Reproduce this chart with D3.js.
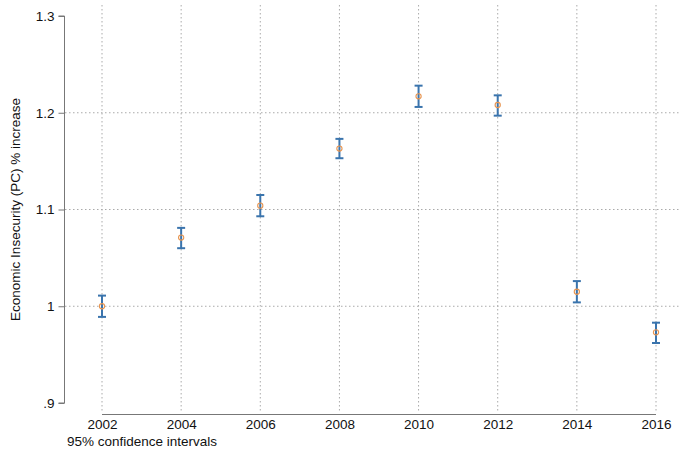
<!DOCTYPE html>
<html><head><meta charset="utf-8">
<script src="https://cdn.jsdelivr.net/npm/d3@7"></script>
<style>
html,body{margin:0;padding:0;background:#fff;}
svg{display:block;font-family:"Liberation Sans",Arial,sans-serif;}
</style></head>
<body>
<svg id="chart" width="680" height="455"></svg>
<script>
const years = [2002, 2004, 2006, 2008, 2010, 2012, 2014, 2016];
const estimates = [1.000, 1.071, 1.104, 1.163, 1.217, 1.208, 1.015, 0.973];
const lowerCI = [0.989, 1.060, 1.093, 1.153, 1.206, 1.197, 1.004, 0.962];
const upperCI = [1.011, 1.081, 1.115, 1.173, 1.228, 1.218, 1.026, 0.983];
const yTicks = [0.9, 1.0, 1.1, 1.2, 1.3];
const yTickLabels = [".9", "1", "1.1", "1.2", "1.3"];
const yGrid = [1.0, 1.1, 1.2];
const yTitle = "Economic Insecurity (PC) % increase";
const note = "95% confidence intervals";

const svg = d3.select("#chart");
const x = d3.scaleLinear().domain([2002, 2016]).range([102, 656]);
const y = d3.scaleLinear().domain([0.9, 1.3]).range([403, 16]);
const blue = "#3a74ad", orange = "#e89550", grid = "#aaaaaa";
const fs = 13.5;

// gridlines
svg.append("g").selectAll("line").data(yGrid).join("line")
  .attr("x1", 65).attr("x2", 680)
  .attr("y1", d => y(d)).attr("y2", d => y(d))
  .attr("stroke", grid).attr("stroke-width", 1).attr("stroke-dasharray", "1.5,2.5");
svg.append("g").selectAll("line").data(years).join("line")
  .attr("x1", d => x(d)).attr("x2", d => x(d))
  .attr("y1", 5).attr("y2", 411)
  .attr("stroke", grid).attr("stroke-width", 1).attr("stroke-dasharray", "1.5,2.5");

// y axis
const yAxis = d3.axisLeft(y).tickValues(yTicks)
  .tickFormat((d, i) => yTickLabels[i]).tickSize(6).tickPadding(4);
const gy = svg.append("g").attr("transform", "translate(64.5,0)").call(yAxis);
gy.select(".domain").attr("stroke", "#777").attr("d", `M-6,${y(1.3)}H0V${y(0.9)}H-6`);
gy.selectAll(".tick line").attr("stroke", "#777");
gy.selectAll(".tick text").attr("font-size", fs).attr("fill", "#111")
  .attr("font-family", "Liberation Sans, Arial, sans-serif");

// x axis
const xAxis = d3.axisBottom(x).tickValues(years).tickFormat(d3.format("d"))
  .tickSize(0).tickPadding(5);
const gx = svg.append("g").attr("transform", "translate(0,414.5)").call(xAxis);
gx.select(".domain").attr("stroke", "#777").attr("d", `M${x(2002)},0H${x(2016)}`);
gx.selectAll(".tick text").attr("font-size", fs).attr("fill", "#111")
  .attr("font-family", "Liberation Sans, Arial, sans-serif");

// error bars
const idx = d3.range(years.length);
const eb = svg.append("g").attr("stroke", blue).attr("stroke-width", 2).attr("fill", "none");
eb.selectAll("line.v").data(idx).join("line").attr("class", "v")
  .attr("x1", i => x(years[i])).attr("x2", i => x(years[i]))
  .attr("y1", i => y(lowerCI[i])).attr("y2", i => y(upperCI[i]));
eb.selectAll("line.t").data(idx).join("line").attr("class", "t")
  .attr("x1", i => x(years[i]) - 4).attr("x2", i => x(years[i]) + 4)
  .attr("y1", i => y(upperCI[i])).attr("y2", i => y(upperCI[i]));
eb.selectAll("line.b").data(idx).join("line").attr("class", "b")
  .attr("x1", i => x(years[i]) - 4).attr("x2", i => x(years[i]) + 4)
  .attr("y1", i => y(lowerCI[i])).attr("y2", i => y(lowerCI[i]));

// markers
svg.append("g").selectAll("circle").data(idx).join("circle")
  .attr("cx", i => x(years[i])).attr("cy", i => y(estimates[i]))
  .attr("r", 2.6).attr("fill", "none").attr("stroke", orange).attr("stroke-width", 1.1);

// titles
svg.append("text").attr("transform", `translate(20,${(y(1.3) + y(0.9)) / 2}) rotate(-90)`)
  .attr("text-anchor", "middle").attr("font-size", fs).attr("fill", "#111").text(yTitle);
svg.append("text").attr("x", 67).attr("y", 446).attr("font-size", fs).attr("fill", "#111").text(note);
</script>
</body></html>
